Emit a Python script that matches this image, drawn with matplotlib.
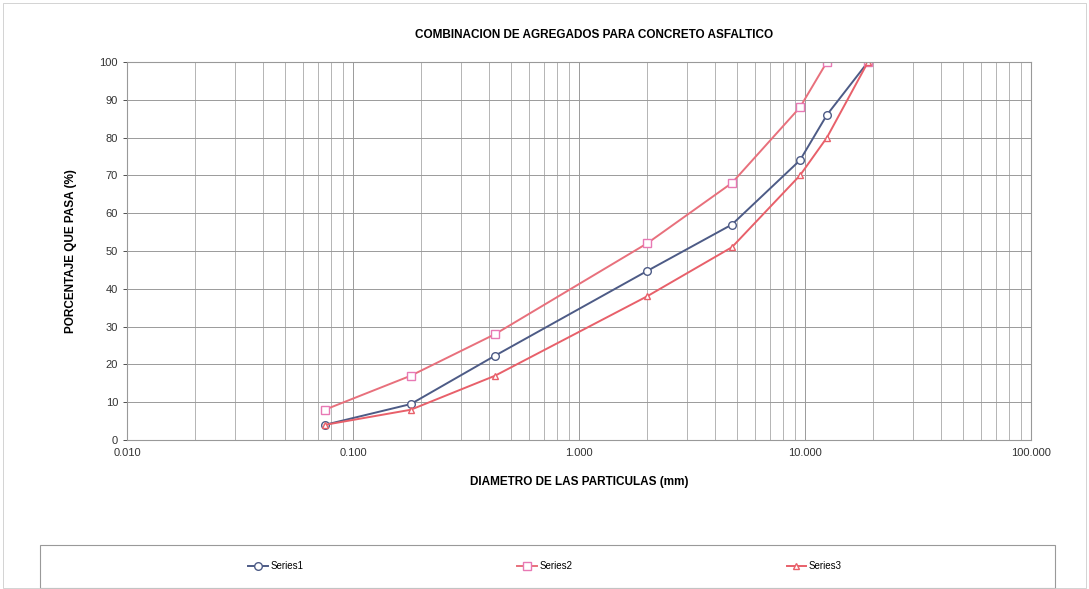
import numpy as np
import matplotlib
matplotlib.use("Agg")
import matplotlib.pyplot as plt
from matplotlib.patches import Rectangle
from matplotlib.ticker import FixedLocator, LogLocator, NullFormatter

# tamices (mm) y porcentaje que pasa
diametro = [0.075, 0.18, 0.425, 2.0, 4.75, 9.5, 12.5, 19.0]
series1 = [4, 9.5, 22.3, 44.7, 57, 74, 86, 100]
series2 = [8, 17, 28, 52, 68, 88, 100, 100]
series3 = [4, 8, 17, 38, 51, 70, 80, 100]

x_ticks = [0.01, 0.1, 1, 10, 100]
x_labels = ["0.010", "0.100", "1.000", "10.000", "100.000"]
y_ticks = list(range(0, 101, 10))

plt.rcParams['font.family'] = ['Liberation Sans', 'DejaVu Sans']

fig = plt.figure(figsize=(10.89, 5.89), dpi=100)
W, H = 1089, 589
ax = fig.add_axes([127 / W, 1 - 440 / H, (1031 - 127) / W, (440 - 62) / H])

c1 = "#4d5b86"
c2 = "#e8707c"
c3 = "#e8606a"
ax.plot(diametro, series1, "-o", color=c1, lw=1.4, ms=5.5, mfc="white", mec=c1, mew=1.0, label="Series1")
ax.plot(diametro, series2, "-s", color=c2, lw=1.4, ms=5.5, mfc="white", mec="#e879b4", mew=1.0, label="Series2")
ax.plot(diametro, series3, "-^", color=c3, lw=1.4, ms=5, mfc="white", mec=c3, mew=1.0, label="Series3")

ax.set_xscale("log")
ax.set_xlim(0.01, 100)
ax.set_ylim(0, 100)
ax.xaxis.set_major_locator(FixedLocator(x_ticks))
ax.set_xticklabels(x_labels)
ax.xaxis.set_minor_locator(LogLocator(base=10, subs=np.arange(2, 10)))
ax.xaxis.set_minor_formatter(NullFormatter())
ax.set_yticks(y_ticks)
ax.grid(True, which="major", color="#9a9a9a", lw=0.7)
ax.grid(True, which="minor", axis="x", color="#a8a8a8", lw=0.6)
ax.tick_params(axis="both", labelsize=8, colors="#333333", length=3, width=0.6)
ax.tick_params(axis="x", which="minor", length=0)
ax.tick_params(axis="x", which="major", length=0, pad=6)
for s in ax.spines.values():
    s.set_color("#999999")
    s.set_linewidth(0.8)

fig.text(594 / W, 1 - 35 / H, "COMBINACION DE AGREGADOS PARA CONCRETO ASFALTICO",
         fontsize=8.5, fontweight="bold", ha="center", va="center")
ax.set_xlabel("DIAMETRO DE LAS PARTICULAS (mm)", fontsize=8.5, fontweight="bold", labelpad=13)
ax.set_ylabel("PORCENTAJE QUE PASA (%)", fontsize=8.5, fontweight="bold", labelpad=16)

# recuadro de la leyenda y del grafico
fig.patches.append(Rectangle((40 / W, 1 - 588 / H), 1015 / W, 43 / H, transform=fig.transFigure,
                             fill=False, ec="#999999", lw=0.8))
fig.patches.append(Rectangle((3 / W, 1 / H), 1083 / W, 1 - 4 / H, transform=fig.transFigure,
                             fill=False, ec="#cccccc", lw=0.6))
fig.legend(loc="center", bbox_to_anchor=(545 / W, 1 - 566 / H), ncol=3, frameon=False,
           fontsize=7, columnspacing=22, handlelength=2.0, handletextpad=0.3)

fig.savefig("out.png", dpi=100)
